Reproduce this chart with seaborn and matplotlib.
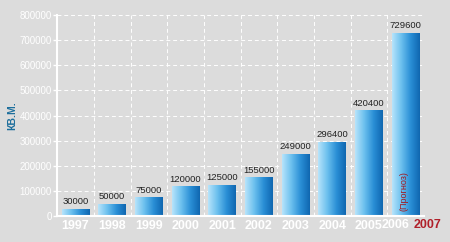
import matplotlib
matplotlib.use('Agg')
import matplotlib.pyplot as plt
import seaborn as sns
import numpy as np
import pandas as pd
from matplotlib.colors import LinearSegmentedColormap
from matplotlib.ticker import FixedLocator

years = ['1997', '1998', '1999', '2000', '2001', '2002', '2003', '2004', '2005', '2006']
values = [30000, 50000, 75000, 120000, 125000, 155000, 249000, 296400, 420400, 729600]
value_labels = [str(v) for v in values]
forecast_year = '2007'
forecast_note = '(Прогноз)'
y_ticks = list(range(0, 800001, 100000))
y_label = 'КВ.М.'

BG = '#dcdcdc'
sns.set_theme(style='white')
plt.rcParams['font.family'] = ['Liberation Sans', 'DejaVu Sans']

fig = plt.figure(figsize=(4.5, 2.42), dpi=100, facecolor=BG)
ax = fig.add_axes([0.127, 0.107, 0.815, 0.831])
ax.set_facecolor(BG)

df = pd.DataFrame({'year': years, 'value': values})
sns.barplot(data=df, x='year', y='value', ax=ax, width=0.76, color='#3a9ad8',
            saturation=1, zorder=3)

cmap = LinearSegmentedColormap.from_list('g', ['#b8e4fb', '#6cc0ee', '#2a8fd6', '#0f66b0'])
grad = np.linspace(0, 1, 256).reshape(1, -1)
for p in list(ax.patches):
    x0, y0 = p.get_x(), p.get_y()
    w, h = p.get_width(), p.get_height()
    p.set_facecolor('none')
    p.set_edgecolor('none')
    im = ax.imshow(grad, extent=[x0, x0 + w, y0, y0 + h], aspect='auto', cmap=cmap,
                   zorder=3, interpolation='bilinear')
    im.set_clip_path(p)

ax.set_xlim(-0.5, len(years) - 0.5)
ax.set_ylim(0, 800000)
ax.set_yticks(y_ticks)
ax.set_yticklabels([str(t) for t in y_ticks])

for i, (v, lab) in enumerate(zip(values, value_labels)):
    ax.text(i, v + 9000, lab, ha='center', va='bottom', fontsize=6.8, color='#222222', zorder=5)

# grid
ax.xaxis.set_minor_locator(FixedLocator([i + 0.5 for i in range(len(years))]))
ax.grid(axis='y', which='major', color='white', linestyle=(0, (4, 3)), linewidth=0.7, zorder=1)
ax.grid(axis='x', which='minor', color='white', linestyle=(0, (4, 3)), linewidth=0.7, zorder=1)
ax.grid(axis='x', which='major', visible=False)

for s in ['top', 'right']:
    ax.spines[s].set_visible(False)
for s in ['left', 'bottom']:
    ax.spines[s].set_color('white')
    ax.spines[s].set_linewidth(1.5)
    ax.spines[s].set_zorder(4)

ax.tick_params(axis='y', which='major', colors='white', labelsize=7, length=3, width=1, left=True, pad=1)
ax.tick_params(axis='x', which='both', length=0, pad=3)
ax.set_xticklabels(years[:-1] + [''], fontweight='bold', color='white', fontsize=9)

ax.set_xlabel('')
ax.set_ylabel(y_label, color='#1c6e9c', fontsize=7.5, fontweight='bold', labelpad=1.5)

tr = ax.get_xaxis_transform()
last = len(years) - 1
ax.text(last - 0.26, -0.015, years[-1], transform=tr, ha='center', va='top',
        fontsize=9, fontweight='bold', color='white')
ax.text(last + 0.6, -0.015, forecast_year, transform=tr, ha='center', va='top',
        fontsize=9, fontweight='bold', color='#b0202a', clip_on=False)
ax.text(last - 0.05, 100000, forecast_note, rotation=90, ha='center', va='center',
        fontsize=6.5, color='#a01820', zorder=6)

fig.savefig('out.png', dpi=100, facecolor=BG)
